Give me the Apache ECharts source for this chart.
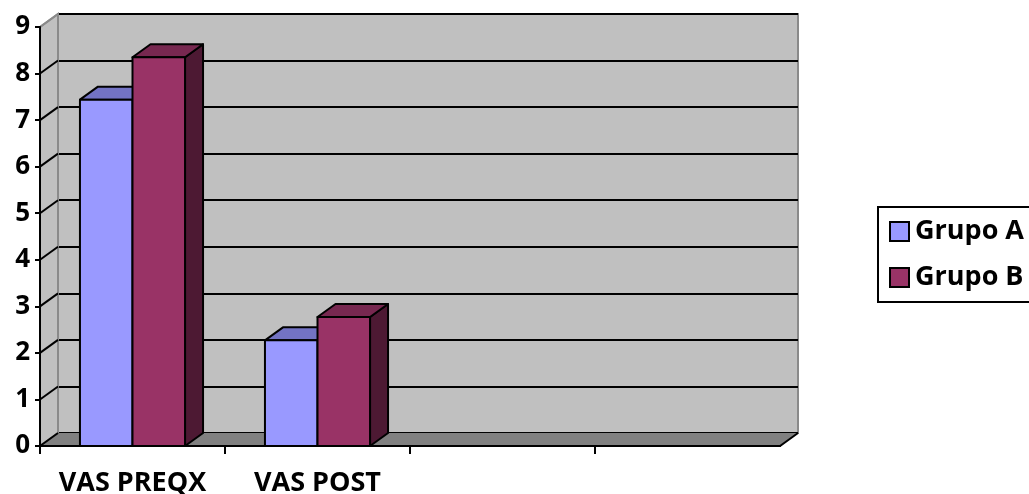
<!DOCTYPE html>
<html>
<head>
<meta charset="utf-8">
<script src="https://cdn.jsdelivr.net/npm/echarts@6/dist/echarts.min.js"></script>
<style>html,body{margin:0;padding:0;background:#fff;overflow:hidden;}#c{width:1029px;height:494px;}</style>
</head>
<body>
<div id="c"></div>
<script>
const categories = ['VAS PREQX', 'VAS POST', '', ''];
const grupoA = [7.44, 2.27];
const grupoB = [8.35, 2.77];
const yMin = 0, yMax = 9, yStep = 1;
const seriesNames = ['Grupo A', 'Grupo B'];

const DX = 18, DY = -13;
const FONT = '"Open Sans", sans-serif';
const colA = { front: '#9999ff', top: '#7373c4', side: '#5c5cab' };
const colB = { front: '#993366', top: '#772850', side: '#4d1933' };

const chart = echarts.init(document.getElementById('c'), null, { renderer: 'canvas' });

function wallRender(params, api) {
  const cs = params.coordSys;
  const x = cs.x, y = cs.y, w = cs.width, h = cs.height;
  const band = api.size([1, 0])[0];
  const children = [];
  children.push({ type: 'polygon', shape: { points: [[x, y], [x + DX, y + DY], [x + DX, y + h + DY], [x, y + h]] },
    style: { fill: '#c0c0c0', stroke: '#8a8a8a', lineWidth: 2 } });
  children.push({ type: 'polygon', shape: { points: [[x, y + h], [x + w, y + h], [x + w + DX, y + h + DY], [x + DX, y + h + DY]] },
    style: { fill: '#808080', stroke: null } });
  for (let v = yMin; v <= yMax; v += yStep) {
    const py = api.coord([0, v])[1];
    children.push({ type: 'line', shape: { x1: x, y1: py, x2: x + DX, y2: py + DY },
      style: { stroke: v === yMax ? '#8a8a8a' : '#000', lineWidth: 2 } });
  }
  children.push({ type: 'polyline', shape: { points: [[x, y + h], [x + w, y + h], [x + w + DX, y + h + DY]] },
    style: { stroke: '#000', lineWidth: 2, fill: null } });
  for (let i = 0; i < categories.length; i++) {
    const tx = Math.round(x + i * band);
    children.push({ type: 'line', shape: { x1: tx, y1: y + h, x2: tx, y2: y + h + 8 },
      style: { stroke: '#000', lineWidth: 2 } });
  }
  return { type: 'group', children };
}

function barRender(offsetSign, col) {
  return function (params, api) {
    const cat = api.value(0), val = api.value(1);
    const base = api.coord([cat, 0]);
    const topP = api.coord([cat, val]);
    const band = api.size([1, 0])[0];
    const bw = band * 0.284;
    const x0 = offsetSign < 0 ? base[0] - bw : base[0];
    const x1 = x0 + bw;
    const yb = base[1], yt = topP[1];
    const st = (f) => ({ fill: f, stroke: '#000', lineWidth: 2, lineJoin: 'round' });
    return { type: 'group', children: [
      { type: 'polygon', shape: { points: [[x1, yb], [x1 + DX, yb + DY], [x1 + DX, yt + DY], [x1, yt]] }, style: st(col.side) },
      { type: 'polygon', shape: { points: [[x0, yt], [x0 + DX, yt + DY], [x1 + DX, yt + DY], [x1, yt]] }, style: st(col.top) },
      { type: 'rect', shape: { x: x0, y: yt, width: bw, height: yb - yt }, style: st(col.front) }
    ] };
  };
}

const option = {
  animation: false,
  backgroundColor: '#fff',
  grid: [
    { left: 40, top: 27, width: 740, height: 419, show: false, containLabel: false, outerBoundsMode: 'none' },
    { left: 58, top: 14, width: 740, height: 419, show: true, backgroundColor: '#c0c0c0', borderColor: '#8a8a8a', borderWidth: 2, z: 0, containLabel: false, outerBoundsMode: 'none' }
  ],
  xAxis: [
    { type: 'category', gridIndex: 0, data: categories, z: 10,
      axisLine: { show: true, lineStyle: { color: '#000', width: 2 } },
      axisTick: { show: false },
      axisLabel: { interval: 0, color: '#000', fontFamily: FONT, fontWeight: 'bold', fontSize: 27, margin: 24 },
      splitLine: { show: false } },
    { type: 'category', gridIndex: 1, data: categories, show: false }
  ],
  yAxis: [
    { type: 'value', gridIndex: 0, min: yMin, max: yMax, interval: yStep, z: 10,
      axisLine: { show: true, lineStyle: { color: '#000', width: 2 } },
      axisTick: { show: true, length: 5, lineStyle: { color: '#000', width: 2 } },
      axisLabel: { color: '#000', fontFamily: FONT, fontWeight: 'bold', fontSize: 26, margin: 10 },
      splitLine: { show: false } },
    { type: 'value', gridIndex: 1, min: yMin, max: yMax, interval: yStep,
      axisLine: { show: false }, axisTick: { show: false }, axisLabel: { show: false },
      splitLine: { show: true, lineStyle: { color: '#000', width: 2 } } }
  ],
  legend: {
    orient: 'vertical', left: 878, top: 207,
    padding: [11, 60, 11, 11], itemGap: 19,
    borderColor: '#000', borderWidth: 2,
    itemWidth: 19, itemHeight: 19,
    icon: 'rect',
    textStyle: { color: '#000', fontFamily: FONT, fontWeight: 'bold', fontSize: 27, padding: [0, 0, 0, 1] },
    data: [
      { name: seriesNames[0], itemStyle: { color: colA.front, borderColor: '#000', borderWidth: 2 } },
      { name: seriesNames[1], itemStyle: { color: colB.front, borderColor: '#000', borderWidth: 2 } }
    ]
  },
  series: [
    { type: 'custom', name: 'walls', xAxisIndex: 0, yAxisIndex: 0, z: 1, silent: true,
      renderItem: wallRender, data: [[0, 0]] },
    { type: 'custom', name: seriesNames[0], xAxisIndex: 0, yAxisIndex: 0, z: 3,
      itemStyle: { color: colA.front, borderColor: '#000', borderWidth: 2 },
      renderItem: barRender(-1, colA), data: grupoA.map((v, i) => [i, v]) },
    { type: 'custom', name: seriesNames[1], xAxisIndex: 0, yAxisIndex: 0, z: 4,
      itemStyle: { color: colB.front, borderColor: '#000', borderWidth: 2 },
      renderItem: barRender(1, colB), data: grupoB.map((v, i) => [i, v]) }
  ]
};
chart.setOption(option);
</script>
</body>
</html>
